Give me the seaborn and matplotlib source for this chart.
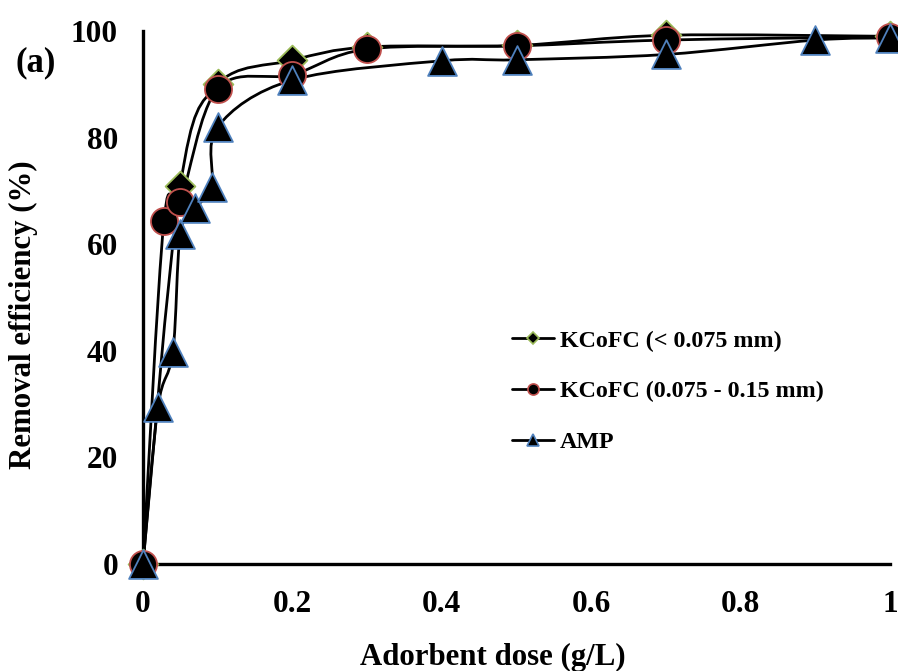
import numpy as np
import pandas as pd
import matplotlib
matplotlib.use("Agg")
import matplotlib.pyplot as plt
from matplotlib.path import Path
from matplotlib.patches import PathPatch
from matplotlib.lines import Line2D
import seaborn as sns

# ---- data ----
dose_small = [0, 0.05, 0.1, 0.2, 0.3, 0.5, 0.7, 1.0]
eff_small = [0, 71, 90, 94.5, 97, 97.3, 99.2, 99]

dose_mid = [0, 0.028, 0.05, 0.1, 0.2, 0.3, 0.5, 0.7, 1.0]
eff_mid = [0, 64.3, 68, 89.2, 91.8, 96.6, 97.2, 98.3, 98.9]

dose_amp = [0, 0.02, 0.04, 0.05, 0.07, 0.092, 0.1, 0.2, 0.4, 0.5, 0.7, 0.9, 1.0]
eff_amp = [0, 29.4, 39.8, 62, 66.8, 70.8, 82, 90.8, 94.4, 94.6, 95.6, 98.3, 98.7]

series_names = ["KCoFC (< 0.075 mm)", "KCoFC (0.075 - 0.15 mm)", "AMP"]
x_ticks = [0, 0.2, 0.4, 0.6, 0.8, 1.0]
x_tick_labels = ["0", "0.2", "0.4", "0.6", "0.8", "1"]
y_ticks = [0, 20, 40, 60, 80, 100]

edge_colors = ["#9BBB59", "#C0504D", "#4F81BD"]
markers = ["D", "o", "^"]
sizes = [230, 380, 430]

sns.set_theme(style="white")
plt.rcParams["font.family"] = ["Liberation Serif", "DejaVu Serif"]
plt.rcParams["font.weight"] = "bold"
plt.rcParams["text.color"] = "black"
plt.rcParams["axes.labelcolor"] = "black"
plt.rcParams["xtick.color"] = "black"
plt.rcParams["ytick.color"] = "black"

fig = plt.figure(figsize=(8.98, 6.71), dpi=100)
ax = fig.add_axes([143 / 898, 1 - 564 / 671, (890 - 143) / 898, (564 - 31) / 671])


def smooth_path(xs, ys):
    pts = np.column_stack([xs, ys]).astype(float)
    n = len(pts)
    verts = [pts[0]]
    codes = [Path.MOVETO]
    for i in range(n - 1):
        p0 = pts[i - 1] if i > 0 else pts[i]
        p1 = pts[i]
        p2 = pts[i + 1]
        p3 = pts[i + 2] if i + 2 < n else pts[i + 1]
        c1 = p1 + (p2 - p0) / 6.0
        c2 = p2 - (p3 - p1) / 6.0
        verts += [c1, c2, p2]
        codes += [Path.CURVE4] * 3
    return Path(verts, codes)


all_x = [dose_small, dose_mid, dose_amp]
all_y = [eff_small, eff_mid, eff_amp]

for xs, ys in zip(all_x, all_y):
    patch = PathPatch(smooth_path(xs, ys), facecolor="none", edgecolor="black",
                      lw=2.0, zorder=2, transform=ax.transData, capstyle="round")
    ax.add_patch(patch)

for i, (xs, ys) in enumerate(zip(all_x, all_y)):
    df = pd.DataFrame({"dose": xs, "eff": ys})
    sns.scatterplot(data=df, x="dose", y="eff", ax=ax, marker=markers[i], s=sizes[i],
                    color="black", edgecolor=edge_colors[i], linewidth=1.3,
                    zorder=3 + i, clip_on=False)

ax.set_xlim(0, 1)
ax.set_ylim(0, 100)
ax.set_xticks(x_ticks)
ax.set_xticklabels(x_tick_labels)
ax.set_yticks(y_ticks)
ax.set_xlabel("")
ax.set_ylabel("")
for s in ["top", "right"]:
    ax.spines[s].set_visible(False)
for s in ["left", "bottom"]:
    ax.spines[s].set_linewidth(2.4)
    ax.spines[s].set_color("black")
ax.tick_params(axis="both", direction="out", length=6, width=2.4, colors="black",
               labelsize=22.5, labelcolor="black")
ax.tick_params(axis="x", pad=13)
ax.tick_params(axis="y", pad=12)
for lab in ax.get_xticklabels() + ax.get_yticklabels():
    lab.set_fontweight("bold")
    lab.set_color("black")

fig.text(493 / 898, 1 - 657 / 671, "Adorbent dose (g/L)", ha="center", va="center",
         fontsize=22.2, fontweight="bold", color="black")
fig.text(23 / 898, 1 - 315 / 671, "Removal efficiency (%)", ha="center", va="center",
         rotation=90, fontsize=22.2, fontweight="bold", color="black")
fig.text(36 / 898, 1 - 63 / 671, "(a)", ha="center", va="center",
         fontsize=25, fontweight="bold", color="black")

handles = [Line2D([0], [0], color="black", lw=2.0, marker=markers[i], markersize=[6, 8, 8][i],
                  markerfacecolor="black", markeredgecolor=edge_colors[i], markeredgewidth=1.2)
           for i in range(3)]
leg = ax.legend(handles, series_names, loc="upper left",
                bbox_to_anchor=(512 / 898, 1 - 330 / 671), bbox_transform=fig.transFigure,
                frameon=False, handlelength=1.75, handletextpad=0.25, labelspacing=1.2,
                prop={"family": "Liberation Serif", "weight": "bold", "size": 17.3},
                borderaxespad=0, borderpad=0)
for t in leg.get_texts():
    t.set_color("black")

fig.savefig("out.png", dpi=100)
